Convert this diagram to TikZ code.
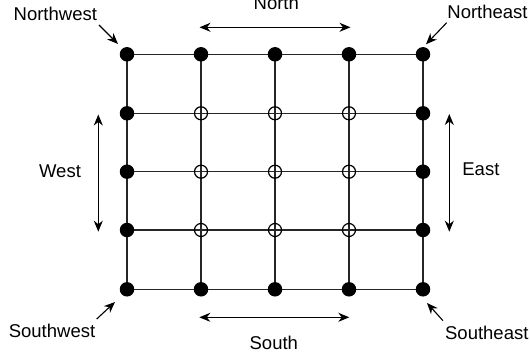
\documentclass[tikz,border=0pt]{standalone}
\usepackage{fontspec}
\setmainfont{Liberation Sans}
\usetikzlibrary{arrows.meta}
\begin{document}
\begin{tikzpicture}[x=1pt,y=-1pt,
  gridline/.style={line width=1.4pt,draw=black!85},
  solid dot/.style={circle,fill=black,inner sep=0pt,minimum size=14.5pt},
  open dot/.style={circle,draw=black,fill=none,line width=1.2pt,inner sep=0pt,minimum size=13pt},
  lbl/.style={anchor=base,inner sep=0pt,font=\fontsize{18.5}{22}\selectfont},
  pointer/.style={line width=1.1pt,-{Stealth[length=11pt,width=9pt,inset=3.5pt]}},
  span/.style={line width=1.1pt,{Stealth[length=11pt,width=9pt,inset=3.5pt]}-{Stealth[length=11pt,width=9pt,inset=3.5pt]}}]
\useasboundingbox (0,0) rectangle (530,358);
% lattice coordinates
\def\xs{{127,201,275,349,423}}
\def\ys{{54.3,113.3,171.7,230,289.3}}
\foreach \i in {0,...,4}
  \foreach \j in {0,...,4}
    \coordinate (p\i\j) at ({\xs[\i]},{\ys[\j]});
% grid lines
\foreach \k in {0,...,4} {
  \draw[gridline] (p0\k) -- (p4\k);
  \draw[gridline] (p\k0) -- (p\k4);
}
% boundary points (filled)
\foreach \i in {0,...,4} {
  \node[solid dot] (d\i0) at (p\i0) {};
  \node[solid dot] (d\i4) at (p\i4) {};
}
\foreach \j in {1,2,3} {
  \node[solid dot] (d0\j) at (p0\j) {};
  \node[solid dot] (d4\j) at (p4\j) {};
}
% interior points (open)
\foreach \i in {1,2,3}
  \foreach \j in {1,2,3}
    \node[open dot] (d\i\j) at (p\i\j) {};
% labels
\node[lbl] (nw) at (55.3,20.5) {Northwest};
\node[lbl] (ne) at (487.5,18.5) {Northeast};
\node[lbl] (sw) at (52,337) {Southwest};
\node[lbl] (se) at (486.8,339) {Southeast};
\node[lbl] (n) at (276.3,10) {North};
\node[lbl] (s) at (273.8,349) {South};
\node[lbl] (w) at (60,178) {West};
\node[lbl] (e) at (480.9,176) {East};
% corner pointers
\coordinate (nwA) at (99,25);   \coordinate (nwB) at (118,44);
\coordinate (neA) at (446.7,22.7); \coordinate (neB) at (426,44.3);
\coordinate (swA) at (96.7,319); \coordinate (swB) at (115,302);
\coordinate (seA) at (443,320.7); \coordinate (seB) at (427,303);
\draw[pointer] (nwA) -- (nwB);
\draw[pointer] (neA) -- (neB);
\draw[pointer] (swA) -- (swB);
\draw[pointer] (seA) -- (seB);
% direction spans
\coordinate (nL) at (199.5,27.3); \coordinate (nR) at (350.5,27.3);
\coordinate (sL) at (199.3,317.3); \coordinate (sR) at (349.3,317.3);
\coordinate (wT) at (98.3,114.5); \coordinate (wB) at (98.3,231.7);
\coordinate (eT) at (449.3,114); \coordinate (eB) at (449.3,231.7);
\draw[span] (nL) -- (nR);
\draw[span] (sL) -- (sR);
\draw[span] (wT) -- (wB);
\draw[span] (eT) -- (eB);
\end{tikzpicture}
\end{document}
